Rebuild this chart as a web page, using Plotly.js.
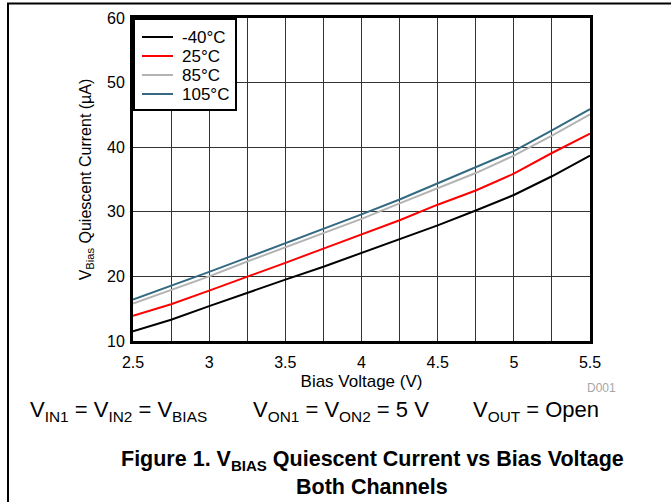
<!DOCTYPE html>
<html>
<head>
<meta charset="utf-8">
<script src="https://cdn.plot.ly/plotly-3.0.1.min.js"></script>
<style>
  html, body { margin: 0; padding: 0; background: #fff; }
  #chart { width: 671px; height: 502px; }
</style>
</head>
<body>
<div id="chart"></div>
<script>
// Bias voltage (V)
const biasVoltage = [2.5, 2.75, 3, 3.25, 3.5, 3.75, 4, 4.25, 4.5, 4.75, 5, 5.25, 5.5];
// Quiescent current (µA) per temperature
const currentM40 = [11.5, 13.3, 15.4, 17.5, 19.5, 21.5, 23.6, 25.8, 27.9, 30.2, 32.6, 35.5, 38.7];
const current25  = [13.9, 15.7, 17.8, 19.9, 22.1, 24.3, 26.5, 28.7, 31.1, 33.3, 35.9, 39.1, 42.1];
const current85  = [15.8, 17.9, 20.0, 22.3, 24.5, 26.7, 28.9, 31.3, 33.6, 36.0, 38.7, 41.8, 45.1];
const current105 = [16.4, 18.5, 20.7, 22.9, 25.1, 27.3, 29.6, 31.9, 34.4, 36.8, 39.4, 42.6, 45.9];
const seriesNames = ['-40°C', '25°C', '85°C', '105°C'];
const seriesColors = ['#000000', '#ff0000', '#b3b3b3', '#336a82'];
const seriesData = [currentM40, current25, current85, current105];

const FONT = 'Liberation Sans, Arial, sans-serif';

const traces = seriesData.map((ys, i) => ({
  x: biasVoltage,
  y: ys,
  type: 'scatter',
  mode: 'lines',
  name: seriesNames[i],
  line: { color: seriesColors[i], width: 2 },
  showlegend: false
}));

// plot area geometry (px) -> paper coordinate helpers
const W = 671, H = 502;
const M = { l: 133, r: 81, t: 18, b: 161 };
const PW = W - M.l - M.r, PH = H - M.t - M.b;
const px = v => (v - M.l) / PW;
const py = v => (H - M.b - v) / PH;

// compact legend box drawn as shapes + texts (legend styling, not data)
const shapes = [
  { type: 'path', xref: 'paper', yref: 'paper',
    path: `M ${px(8)},${py(520)} L ${px(8)},${py(3.5)} L ${px(690)},${py(3.5)}`,
    line: { color: '#000000', width: 2 } },
  { type: 'rect', xref: 'paper', yref: 'paper', x0: px(134), x1: px(236), y0: py(19), y1: py(110),
    fillcolor: '#ffffff', line: { color: '#000000', width: 2 }, layer: 'above' }
];
const annotations = [];
seriesNames.forEach((name, i) => {
  const yc = 37 + i * 19;
  shapes.push({ type: 'line', xref: 'paper', yref: 'paper', x0: px(142), x1: px(173), y0: py(yc), y1: py(yc),
    line: { color: seriesColors[i], width: 2 }, layer: 'above' });
  annotations.push({ xref: 'paper', yref: 'paper', x: px(180), y: py(yc), xanchor: 'left', yanchor: 'middle',
    text: name, showarrow: false, font: { family: FONT, size: 17, color: '#000000' } });
});

annotations.push(
  { xref: 'paper', yref: 'paper', x: px(601), y: py(388), xanchor: 'center', yanchor: 'middle',
    text: 'D001', showarrow: false, font: { family: FONT, size: 12, color: '#a6a6a6' } },
  { xref: 'paper', yref: 'paper', x: px(28), y: py(411), xanchor: 'left', yanchor: 'middle',
    text: 'V<sub>IN1</sub> = V<sub>IN2</sub> = V<sub>BIAS</sub>', showarrow: false,
    font: { family: FONT, size: 22, color: '#000000' } },
  { xref: 'paper', yref: 'paper', x: px(251), y: py(411), xanchor: 'left', yanchor: 'middle',
    text: 'V<sub>ON1</sub> = V<sub>ON2</sub> = 5 V', showarrow: false,
    font: { family: FONT, size: 22, color: '#000000' } },
  { xref: 'paper', yref: 'paper', x: px(471), y: py(411), xanchor: 'left', yanchor: 'middle',
    text: 'V<sub>OUT</sub> = Open', showarrow: false,
    font: { family: FONT, size: 22, color: '#000000' } },
  { xref: 'paper', yref: 'paper', x: px(372), y: py(460), xanchor: 'center', yanchor: 'middle',
    text: '<b>Figure 1. V<sub>BIAS</sub> Quiescent Current vs Bias Voltage</b>', showarrow: false,
    font: { family: FONT, size: 21.5, color: '#000000' } },
  { xref: 'paper', yref: 'paper', x: px(371.5), y: py(487), xanchor: 'center', yanchor: 'middle',
    text: '<b>Both Channels</b>', showarrow: false,
    font: { family: FONT, size: 21.5, color: '#000000' } }
);

const layout = {
  width: W,
  height: H,
  margin: M,
  paper_bgcolor: '#ffffff',
  plot_bgcolor: '#ffffff',
  font: { family: FONT, color: '#000000' },
  showlegend: false,
  xaxis: {
    range: [2.5, 5.5],
    dtick: 0.5,
    tick0: 2.5,
    showgrid: true,
    gridcolor: '#333333',
    gridwidth: 1,
    minor: { dtick: 0.25, showgrid: true, gridcolor: '#333333', gridwidth: 1 },
    showline: true, mirror: true, linecolor: '#000000', linewidth: 3,
    zeroline: false,
    ticks: '',
    ticklabelstandoff: 5,
    tickfont: { family: FONT, size: 16, color: '#000000' },
    title: { text: 'Bias Voltage (V)', font: { family: FONT, size: 17, color: '#000000' }, standoff: 5 },
    automargin: false
  },
  yaxis: {
    range: [10, 60],
    dtick: 10,
    showgrid: true,
    gridcolor: '#333333',
    gridwidth: 1,
    showline: true, mirror: true, linecolor: '#000000', linewidth: 3,
    zeroline: false,
    ticks: '',
    ticklabelstandoff: 2,
    tickfont: { family: FONT, size: 16, color: '#000000' },
    title: { text: 'V<sub>Bias</sub> Quiescent Current (µA)', font: { family: FONT, size: 16, color: '#000000' }, standoff: 12 },
    automargin: false
  },
  shapes: shapes,
  annotations: annotations
};

Plotly.newPlot('chart', traces, layout, { displayModeBar: false, staticPlot: true });
</script>
</body>
</html>
